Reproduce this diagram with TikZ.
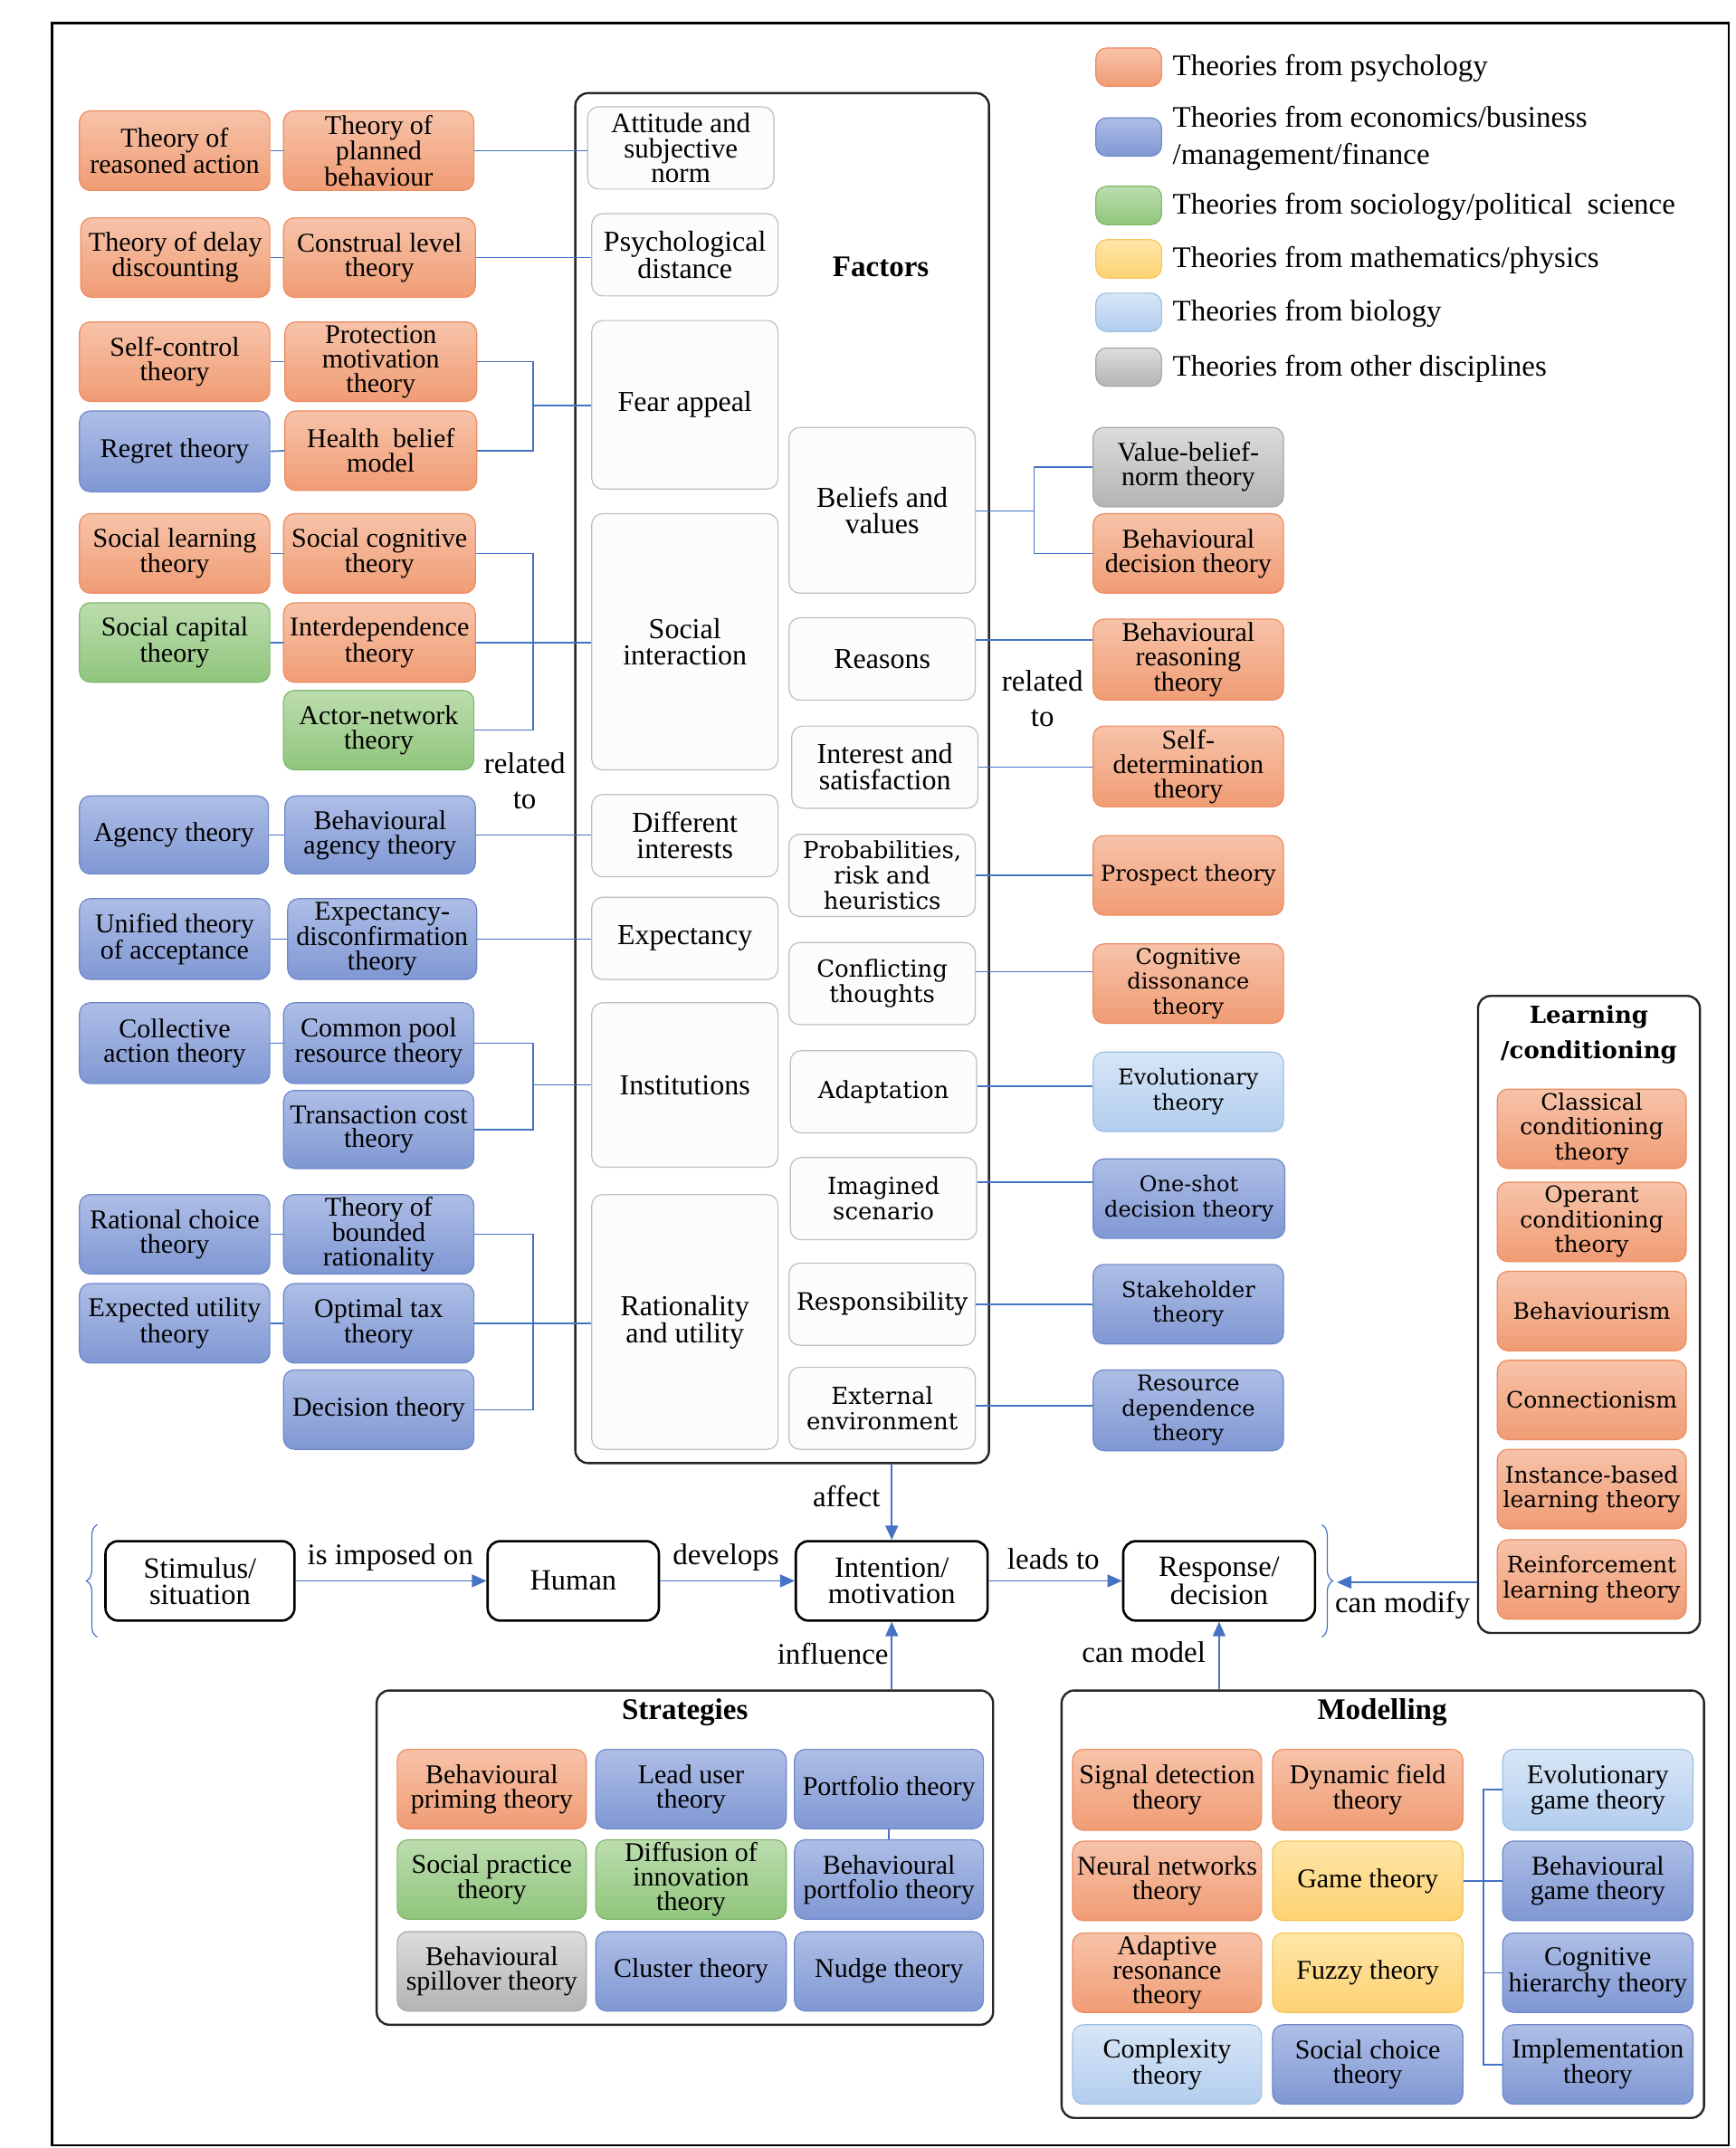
\documentclass[tikz,border=0pt]{standalone}
\usepackage{fontspec}
\setmainfont{Liberation Serif}
\newfontfamily\widefont{DejaVu Serif}
\usetikzlibrary{arrows.meta,decorations.pathreplacing,calc}

\definecolor{psyT}{HTML}{F7C3A9}\definecolor{psyB}{HTML}{F09C74}\definecolor{psyD}{HTML}{EE8B5F}
\definecolor{ecoT}{HTML}{AEBEE6}\definecolor{ecoB}{HTML}{7F97D3}\definecolor{ecoD}{HTML}{6E88C9}
\definecolor{socT}{HTML}{BCDDAE}\definecolor{socB}{HTML}{90C57C}\definecolor{socD}{HTML}{7FB86A}
\definecolor{matT}{HTML}{FFE6A8}\definecolor{matB}{HTML}{FDD272}\definecolor{matD}{HTML}{F6C55A}
\definecolor{bioT}{HTML}{D8E6F6}\definecolor{bioB}{HTML}{B2CDEE}\definecolor{bioD}{HTML}{9DBEE5}
\definecolor{othT}{HTML}{DCDCDC}\definecolor{othB}{HTML}{B4B4B4}\definecolor{othD}{HTML}{A6A6A6}
\definecolor{conn}{HTML}{4472C4}

\newcommand\mybox[7]{\node[#6, minimum width={(#4-#2)*1.5138pt}, minimum height={(#5-#3)*1.5138pt}] (#1) at ({(#2+#4)/2},{(#3+#5)/2}) {#7};}

\tikzset{
  th/.style={rounded corners=12pt, line width=1.2pt, align=center, inner sep=0pt, font=\fontsize{30}{27}\selectfont},
  psy/.style={th, draw=psyD, top color=psyT, bottom color=psyB},
  eco/.style={th, draw=ecoD, top color=ecoT, bottom color=ecoB},
  soc/.style={th, draw=socD, top color=socT, bottom color=socB},
  mat/.style={th, draw=matD, top color=matT, bottom color=matB},
  bio/.style={th, draw=bioD, top color=bioT, bottom color=bioB},
  oth/.style={th, draw=othD, top color=othT, bottom color=othB},
  wd/.style={font=\widefont\fontsize{24}{27.5}\selectfont},
  wdf/.style={font=\widefont\fontsize{26}{28}\selectfont},
  wdl/.style={font=\widefont\fontsize{25}{27.5}\selectfont},
  fac/.style={rounded corners=12pt, draw=black!25, fill=black!1, line width=1.2pt, align=center, inner sep=0pt, font=\fontsize{32}{29}\selectfont},
  flow/.style={rounded corners=14pt, draw=black, line width=2.6pt, fill=white, align=center, inner sep=0pt, font=\fontsize{32.5}{29}\selectfont},
  frame/.style={rounded corners=14pt, draw=black!85, line width=2.4pt},
  cn/.style={draw=conn, line width=1.6pt},
  arr/.style={cn, -{Triangle[length=16pt,width=14pt]}},
  lbl/.style={align=center, inner sep=0pt, font=\fontsize{33}{39}\selectfont},
  leg/.style={anchor=west, align=left, inner sep=0pt, font=\fontsize{33}{41}\selectfont},
  ttl/.style={align=center, inner sep=0pt, font=\bfseries\fontsize{33}{39}\selectfont},
}

\begin{document}
\begin{tikzpicture}[x=1.5138pt, y=-1.5138pt]
\useasboundingbox (0,0) rectangle (1267,1568);
\fill[white] (0,0) rectangle (1267,1568);
\draw[black, line width=2.6pt] (38,17) rectangle (1262,1566);

% legend
\mybox{lg1}{800}{35}{848}{63}{psy}{}
\mybox{lg2}{800}{86}{848}{114}{eco}{}
\mybox{lg3}{800}{136}{848}{164}{soc}{}
\mybox{lg4}{800}{175}{848}{203}{mat}{}
\mybox{lg5}{800}{214}{848}{242}{bio}{}
\mybox{lg6}{800}{254}{848}{282}{oth}{}
\node[leg] (lt1) at (856,50) {Theories from psychology};
\node[leg] (lt2) at (856,101) {Theories from economics/business\\/management/finance};
\node[leg] (lt3) at (856,151) {Theories from sociology/political\ \ science};
\node[leg] (lt4) at (856,190) {Theories from mathematics/physics};
\node[leg] (lt5) at (856,229) {Theories from biology};
\node[leg] (lt6) at (856,269) {Theories from other disciplines};

% factors frame
\mybox{fac}{420}{68}{722}{1068}{frame}{}
\node[ttl] (factt) at (643,195) {Factors};

\mybox{fatt}{429}{78}{565}{138}{fac,font=\fontsize{31}{27.5}\selectfont}{Attitude and\\subjective\\norm}
\mybox{fpsd}{432}{156}{568}{216}{fac}{Psychological\\distance}
\mybox{ffear}{432}{234}{568}{357}{fac}{Fear appeal}
\mybox{fsoc}{432}{375}{568}{562}{fac}{Social\\interaction}
\mybox{fdif}{432}{580}{568}{640}{fac}{Different\\interests}
\mybox{fexp}{432}{655}{568}{715}{fac}{Expectancy}
\mybox{finst}{432}{732}{568}{852}{fac}{Institutions}
\mybox{frat}{432}{872}{568}{1058}{fac}{Rationality\\and utility}

\mybox{fbel}{576}{312}{712}{433}{fac}{Beliefs and\\values}
\mybox{frea}{576}{451}{712}{511}{fac}{Reasons}
\mybox{fint}{578}{530}{714}{590}{fac}{Interest and\\satisfaction}
\mybox{fprob}{576}{609}{712}{669}{fac,wdf}{Probabilities,\\risk and\\heuristics}
\mybox{fconf}{576}{688}{712}{748}{fac,wdf}{Conflicting\\thoughts}
\mybox{fadap}{577}{767}{713}{827}{fac,wdf}{Adaptation}
\mybox{fimag}{577}{845}{713}{905}{fac,wdf}{Imagined\\scenario}
\mybox{fresp}{576}{922}{712}{982}{fac,wdf,font=\widefont\fontsize{26.5}{28}\selectfont}{Responsibility}
\mybox{fext}{576}{998}{712}{1058}{fac,wdf}{External\\environment}

% left theories
\mybox{tra}{58}{81}{197}{139}{psy}{Theory of\\reasoned action}
\mybox{tpb}{207}{81}{346}{139}{psy}{Theory of\\planned\\behaviour}
\mybox{tdd}{59}{159}{197}{217}{psy}{Theory of delay\\discounting}
\mybox{tcl}{207}{159}{347}{217}{psy}{Construal level\\theory}
\mybox{tsc}{58}{235}{197}{293}{psy}{Self-control\\theory}
\mybox{tpm}{208}{235}{348}{293}{psy}{Protection\\motivation\\theory}
\mybox{trg}{58}{300}{197}{359}{eco}{Regret theory}
\mybox{thb}{208}{300}{348}{358}{psy}{Health\ \ belief\\model}
\mybox{tsl}{58}{375}{197}{433}{psy}{Social learning\\theory}
\mybox{tsct}{207}{375}{347}{433}{psy}{Social cognitive\\theory}
\mybox{tscap}{58}{440}{197}{498}{soc}{Social capital\\theory}
\mybox{tid}{207}{440}{347}{498}{psy}{Interdependence\\theory}
\mybox{tan}{207}{504}{346}{562}{soc}{Actor-network\\theory}
\mybox{tag}{58}{581}{196}{638}{eco}{Agency theory}
\mybox{tbag}{208}{581}{347}{638}{eco}{Behavioural\\agency theory}
\mybox{tut}{58}{656}{197}{715}{eco}{Unified theory\\of acceptance}
\mybox{ted}{210}{656}{348}{715}{eco}{Expectancy-\\disconfirmation\\theory}
\mybox{tca}{58}{732}{197}{791}{eco}{Collective\\action theory}
\mybox{tcpr}{207}{732}{346}{791}{eco}{Common pool\\resource theory}
\mybox{ttc}{207}{796}{346}{853}{eco}{Transaction cost\\theory}
\mybox{trc}{58}{872}{197}{930}{eco}{Rational choice\\theory}
\mybox{tbr}{207}{872}{346}{930}{eco}{Theory of\\bounded\\rationality}
\mybox{teu}{58}{937}{197}{995}{eco}{Expected utility\\theory}
\mybox{tot}{207}{937}{346}{995}{eco}{Optimal tax\\theory}
\mybox{tdt}{207}{1000}{346}{1058}{eco}{Decision theory}

% right theories
\mybox{tvbn}{798}{312}{937}{370}{oth}{Value-belief-\\norm theory}
\mybox{tbdt}{798}{375}{937}{433}{psy}{Behavioural\\decision theory}
\mybox{tbrt}{798}{452}{937}{511}{psy}{Behavioural\\reasoning\\theory}
\mybox{tsdt}{798}{530}{937}{589}{psy}{Self-\\determination\\theory}
\mybox{tpt}{798}{610}{937}{668}{psy,wd}{Prospect theory}
\mybox{tcdt}{798}{689}{937}{747}{psy,wd}{Cognitive\\dissonance\\theory}
\mybox{tevo}{798}{768}{937}{826}{bio,wd}{Evolutionary\\theory}
\mybox{tos}{798}{846}{938}{904}{eco,wd}{One-shot\\decision theory}
\mybox{tsh}{798}{923}{937}{981}{eco,wd}{Stakeholder\\theory}
\mybox{trd}{798}{1000}{937}{1059}{eco,wd}{Resource\\dependence\\theory}

% learning
\mybox{learn}{1079}{727}{1241}{1192}{frame}{}
\node[ttl, font=\widefont\bfseries\fontsize{26}{39}\selectfont] (learnt) at (1160,755) {Learning\\/conditioning};
\mybox{lcc}{1093}{795}{1231}{853}{psy,wdl}{Classical\\conditioning\\theory}
\mybox{loc}{1093}{863}{1231}{921}{psy,wdl}{Operant\\conditioning\\theory}
\mybox{lbeh}{1093}{928}{1231}{986}{psy,wdl}{Behaviourism}
\mybox{lcon}{1093}{993}{1231}{1051}{psy,wdl}{Connectionism}
\mybox{libl}{1093}{1058}{1231}{1116}{psy,wdl}{Instance-based\\learning theory}
\mybox{lrl}{1093}{1124}{1231}{1182}{psy,wdl}{Reinforcement\\learning theory}

% flow
\mybox{stim}{77}{1125}{215}{1183}{flow}{Stimulus/\\situation}
\mybox{hum}{356}{1125}{481}{1183}{flow}{Human}
\mybox{intm}{581}{1125}{721}{1183}{flow}{Intention/\\motivation}
\mybox{resp}{820}{1125}{960}{1183}{flow}{Response/\\decision}

% strategies
\mybox{strat}{275}{1234}{725}{1478}{frame}{}
\node[ttl] (stratt) at (500,1250) {Strategies};
\mybox{s11}{290}{1277}{428}{1335}{psy}{Behavioural\\priming theory}
\mybox{s12}{435}{1277}{574}{1335}{eco}{Lead user\\theory}
\mybox{s13}{580}{1277}{718}{1335}{eco}{Portfolio theory}
\mybox{s21}{290}{1343}{428}{1401}{soc}{Social practice\\theory}
\mybox{s22}{435}{1343}{574}{1401}{soc}{Diffusion of\\innovation\\theory}
\mybox{s23}{580}{1343}{718}{1401}{eco}{Behavioural\\portfolio theory}
\mybox{s31}{290}{1410}{428}{1468}{oth}{Behavioural\\spillover theory}
\mybox{s32}{435}{1410}{574}{1468}{eco}{Cluster theory}
\mybox{s33}{580}{1410}{718}{1468}{eco}{Nudge theory}

% modelling
\mybox{model}{775}{1234}{1244}{1546}{frame}{}
\node[ttl] (modelt) at (1009,1250) {Modelling};
\mybox{m11}{783}{1277}{921}{1336}{psy}{Signal detection\\theory}
\mybox{m21}{783}{1344}{921}{1402}{psy}{Neural networks\\theory}
\mybox{m31}{783}{1411}{921}{1469}{psy}{Adaptive\\resonance\\theory}
\mybox{m41}{783}{1478}{921}{1536}{bio}{Complexity\\theory}
\mybox{m12}{929}{1277}{1068}{1336}{psy}{Dynamic field\\theory}
\mybox{m22}{929}{1344}{1068}{1402}{mat}{Game theory}
\mybox{m32}{929}{1411}{1068}{1469}{mat}{Fuzzy theory}
\mybox{m42}{929}{1478}{1068}{1536}{eco}{Social choice\\theory}
\mybox{m13}{1097}{1277}{1236}{1336}{bio}{Evolutionary\\game theory}
\mybox{m23}{1097}{1344}{1236}{1402}{eco}{Behavioural\\game theory}
\mybox{m33}{1097}{1411}{1236}{1469}{eco}{Cognitive\\hierarchy theory}
\mybox{m43}{1097}{1478}{1236}{1536}{eco}{Implementation\\theory}

% ---- connectors left
\draw[cn] (tra.east) -- (tpb.west);
\draw[cn] (tpb.east) -- (tpb.east -| fatt.west);
\draw[cn] (tdd.east) -- (tcl.west);
\draw[cn] (tcl.east) -- (tcl.east -| fpsd.west);
\draw[cn] (tsc.east) -- (tpm.west);
\draw[cn] (trg.east) -- (thb.west);
\coordinate (j1) at (389,296);
\draw[cn] (tpm.east) -| (j1) |- (thb.east);
\draw[cn] (j1) -- (j1 -| ffear.west);
\draw[cn] (tsl.east) -- (tsct.west);
\draw[cn] (tscap.east) -- (tid.west);
\coordinate (j2) at (389,469);
\draw[cn] (tsct.east) -| (j2) |- (tan.east);
\draw[cn] (tid.east) -- (tid.east -| fsoc.west);
\draw[cn] (tag.east) -- (tbag.west);
\draw[cn] (tbag.east) -- (tbag.east -| fdif.west);
\draw[cn] (tut.east) -- (ted.west);
\draw[cn] (ted.east) -- (ted.east -| fexp.west);
\draw[cn] (tca.east) -- (tcpr.west);
\coordinate (j3) at (389,792);
\draw[cn] (tcpr.east) -| (j3) |- (ttc.east);
\draw[cn] (j3) -- (j3 -| finst.west);
\draw[cn] (trc.east) -- (tbr.west);
\draw[cn] (teu.east) -- (tot.west);
\coordinate (j4) at (389,966);
\draw[cn] (tbr.east) -| (j4) |- (tdt.east);
\draw[cn] (tot.east) -- (tot.east -| frat.west);

% ---- connectors right
\coordinate (j5) at (755,373);
\draw[cn] (fbel.east |- j5) -- (j5);
\draw[cn] (tvbn.west) -| (j5) |- (tbdt.west);
\draw[cn] ([yshift=21pt]frea.east) -- ([yshift=21pt]frea.east -| tbrt.west);
\draw[cn] (fint.east) -- (fint.east -| tsdt.west);
\draw[cn] (fprob.east) -- (fprob.east -| tpt.west);
\draw[cn] ([yshift=13pt]fconf.east) -- ([yshift=13pt]fconf.east -| tcdt.west);
\draw[cn] ([yshift=6pt]fadap.east) -- ([yshift=6pt]fadap.east -| tevo.west);
\draw[cn] ([yshift=18pt]fimag.east) -- ([yshift=18pt]fimag.east -| tos.west);
\draw[cn] (fresp.east) -- (fresp.east -| tsh.west);
\draw[cn] ([yshift=3pt]fext.east) -- ([yshift=3pt]fext.east -| trd.west);

% related labels
\node[lbl] (rel1) at (383,570) {related\\to};
\node[lbl] (rel2) at (761,510) {related\\to};

% ---- flow arrows
\draw[arr] (stim.east) -- (hum.west);
\draw[arr] (hum.east) -- (intm.west);
\draw[arr] (intm.east) -- (resp.west);
\draw[arr] (fac.south -| intm.north) -- (intm.north);
\draw[arr] (strat.north -| intm.south) -- (intm.south);
\draw[arr] (model.north -| resp.south) -- (resp.south);
\node[lbl] (l1) at (285,1137) {is imposed on};
\node[lbl] (l2) at (530,1137) {develops};
\node[lbl] (l3) at (769,1138) {leads to};
\node[lbl] (l4) at (618,1092) {affect};
\node[lbl] (l5) at (608,1207) {influence};
\node[lbl] (l6) at (835,1206) {can model};
\node[lbl] (l7) at (1024,1172) {can modify};

% braces
\draw[conn, line width=1.2pt, decorate, decoration={brace, amplitude=12pt}] (71,1195) -- (71,1113);
\draw[conn, line width=1.2pt, decorate, decoration={brace, amplitude=12pt}] (965,1113) -- (965,1195);
\coordinate (rb) at (976,1155);
\draw[arr] (learn.west |- rb) -- (rb);

% strategies / modelling connectors
\draw[cn] (s13.south) -- (s23.north);
\coordinate (j6) at (1083,1373);
\draw[cn] (m13.west) -| (j6) |- (m43.west);
\draw[cn] (m22.east) -- (m22.east -| m23.west);
\draw[cn] (j6 |- m33.west) -- (m33.west);
\end{tikzpicture}
\end{document}
